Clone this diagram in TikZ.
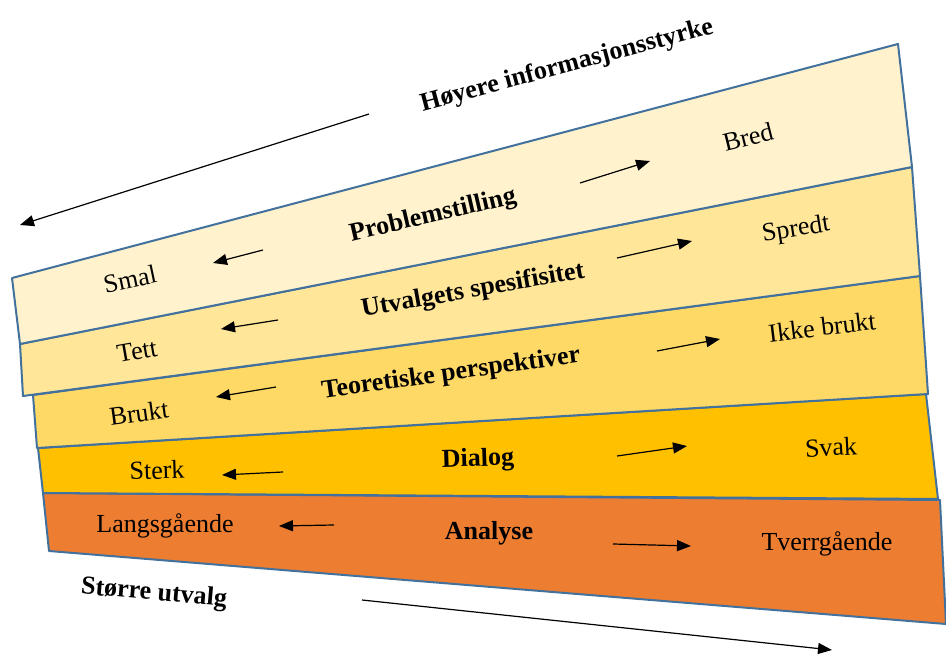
\documentclass[tikz,border=0pt]{standalone}
\usepackage{fontspec}
\setmainfont{Liberation Serif}
\usetikzlibrary{arrows.meta}
\definecolor{bandA}{HTML}{FFF2CC}
\definecolor{bandB}{HTML}{FFE699}
\definecolor{bandC}{HTML}{FFD966}
\definecolor{bandD}{HTML}{FFC000}
\definecolor{bandE}{HTML}{ED7D31}
\definecolor{rim}{HTML}{41719C}

\begin{document}
\begin{tikzpicture}[x=1pt, y=-1pt,
    band/.style={draw=rim, line width=2pt, line join=round},
    lbl/.style={font=\fontsize{26}{30}\selectfont},
    ttl/.style={font=\fontsize{26}{30}\selectfont\bfseries},
    arr/.style={-{Triangle[length=14pt,width=11pt]}, line width=1.2pt}]
    \useasboundingbox (0,0) rectangle (946,655);

    \filldraw[band, fill=bandE] (43,493) -- (940,500) -- (946,624) -- (49,551) -- cycle;
    \filldraw[band, fill=bandD] (38,448) -- (926,394) -- (938,499) -- (43,493) -- cycle;
    \filldraw[band, fill=bandC] (33,395) -- (920,276) -- (928,394) -- (37,448) -- cycle;
    \filldraw[band, fill=bandB] (20,344) -- (912,167) -- (920,276) -- (23,396) -- cycle;
    \filldraw[band, fill=bandA] (12,278) -- (898,44) -- (912,167) -- (20,344) -- cycle;

    \node[lbl, rotate=12] (smal) at (130,279) {Smal};
    \node[ttl, rotate=13] (prob) at (433,216) {Problemstilling};
    \node[lbl, rotate=14] (bred) at (748,137) {Bred};

    \node[lbl, rotate=10] (tett) at (137,351) {Tett};
    \node[ttl, rotate=10] (utv) at (473,291) {Utvalgets spesifisitet};
    \node[lbl, rotate=9] (spredt) at (796,230) {Spredt};

    \node[lbl, rotate=8] (brukt) at (139,413) {Brukt};
    \node[ttl, rotate=8] (teo) at (451,374) {Teoretiske perspektiver};
    \node[lbl, rotate=7] (ikke) at (822,327) {Ikke brukt};

    \node[lbl, rotate=2] (sterk) at (157,470) {Sterk};
    \node[ttl, rotate=2] (dialog) at (478,460) {Dialog};
    \node[lbl, rotate=3] (svak) at (831,447) {Svak};

    \node[lbl] (langs) at (165,526) {Langsgående};
    \node[ttl] (analyse) at (489,533) {Analyse};
    \node[lbl] (tverr) at (827,544) {Tverrgående};

    \node[ttl, rotate=15] (hoy) at (567,66) {Høyere informasjonsstyrke};
    \node[ttl, rotate=-5] (storre) at (154,594) {Større utvalg};

    \foreach \n/\ax/\ay/\bx/\by in {1/263/250/213/263, 2/278/320/221/329, 3/276/387/216/397,
                                    4/283/472/222/475, 5/334/525/279/526} {
        \coordinate (lt\n) at (\ax,\ay);
        \coordinate (lh\n) at (\bx,\by);
        \draw[arr] (lt\n) -- (lh\n);
    }
    \foreach \n/\ax/\ay/\bx/\by in {1/580/183/650/161, 2/617/258/692/241, 3/657/351/720/339,
                                    4/617/456/687/446, 5/613/544/691/546} {
        \coordinate (rt\n) at (\ax,\ay);
        \coordinate (rh\n) at (\bx,\by);
        \draw[arr] (rt\n) -- (rh\n);
    }

    \coordinate (topA) at (369,114);
    \coordinate (topB) at (20,225);
    \draw[arr] (topA) -- (topB);
    \coordinate (botA) at (362,600);
    \coordinate (botB) at (832,650);
    \draw[arr] (botA) -- (botB);
\end{tikzpicture}
\end{document}
